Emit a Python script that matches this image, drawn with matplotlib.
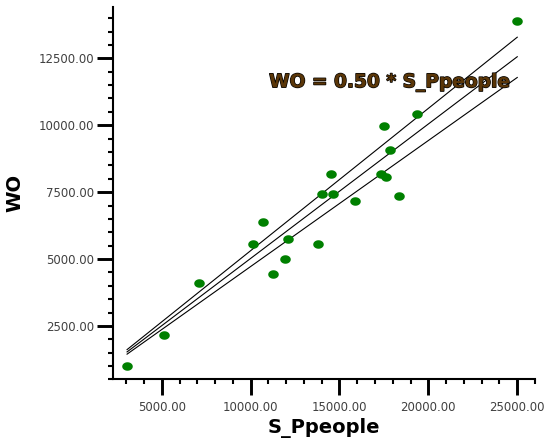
import matplotlib
matplotlib.use("Agg")
import matplotlib.pyplot as plt
import matplotlib.patheffects as pe
import numpy as np
from matplotlib.path import Path
from matplotlib.ticker import MultipleLocator, FormatStrFormatter

# data
s_ppeople = [25000, 19350, 17500, 17850, 14500, 17340, 17600, 14000, 14620, 18350,
             15880, 10680, 10120, 12120, 13810, 11940, 11280, 7100, 5130, 3050]
wo = [13900, 10420, 9980, 9080, 8170, 8180, 8050, 7430, 7430, 7340,
      7180, 6400, 5550, 5740, 5550, 5000, 4430, 4100, 2160, 1000]

# fitted line and its confidence band (end values)
fit_x = [3050, 25000]
fit_mid = [1530, 12560]
fit_hi = [1616, 13290]
fit_lo = [1447, 11785]

equation = "WO = 0.50 * S_Ppeople"

plt.rcParams["font.family"] = "DejaVu Sans"

fig = plt.figure(figsize=(5.44, 4.41), dpi=100)
ax = fig.add_axes([0.2072, 0.1395, 0.7763, 0.8447])

# slightly wide ellipse marker, like the original
t = np.linspace(0, 2 * np.pi, 40)
ell = Path(np.column_stack([1.24 * np.cos(t), np.sin(t)]))
ax.scatter(s_ppeople, wo, marker=ell, s=7.6 ** 2, color="#008000",
           linewidths=0, zorder=3)

for yy in (fit_hi, fit_mid, fit_lo):
    ax.plot(fit_x, yy, color="black", lw=0.8, zorder=2)

ax.text(11040, 11420, equation, fontsize=13.4, fontweight="bold",
        color="#5a3608", ha="left", va="baseline", zorder=4,
        path_effects=[pe.withStroke(linewidth=1.0, foreground="black")])

ax.set_xlim(2243, 26000)
ax.set_ylim(500, 14420)

ax.xaxis.set_major_locator(MultipleLocator(5000))
ax.xaxis.set_minor_locator(MultipleLocator(1000))
ax.yaxis.set_major_locator(MultipleLocator(2500))
ax.yaxis.set_minor_locator(MultipleLocator(500))
ax.xaxis.set_major_formatter(FormatStrFormatter("%.2f"))
ax.yaxis.set_major_formatter(FormatStrFormatter("%.2f"))

for side in ("top", "right"):
    ax.spines[side].set_visible(False)
for side in ("left", "bottom"):
    ax.spines[side].set_linewidth(1.5)

ax.tick_params(which="major", length=11.5, width=2.1, direction="out",
               labelsize=8.5, labelcolor="#404040", pad=2)
ax.tick_params(axis="x", which="major", pad=4)
ax.tick_params(which="minor", length=3.8, width=1.5, direction="out")

ax.set_xlabel("S_Ppeople", fontsize=14, fontweight="bold", labelpad=3)
ax.set_ylabel("WO", fontsize=14, fontweight="bold", labelpad=10)

fig.savefig("out.png", dpi=100)
